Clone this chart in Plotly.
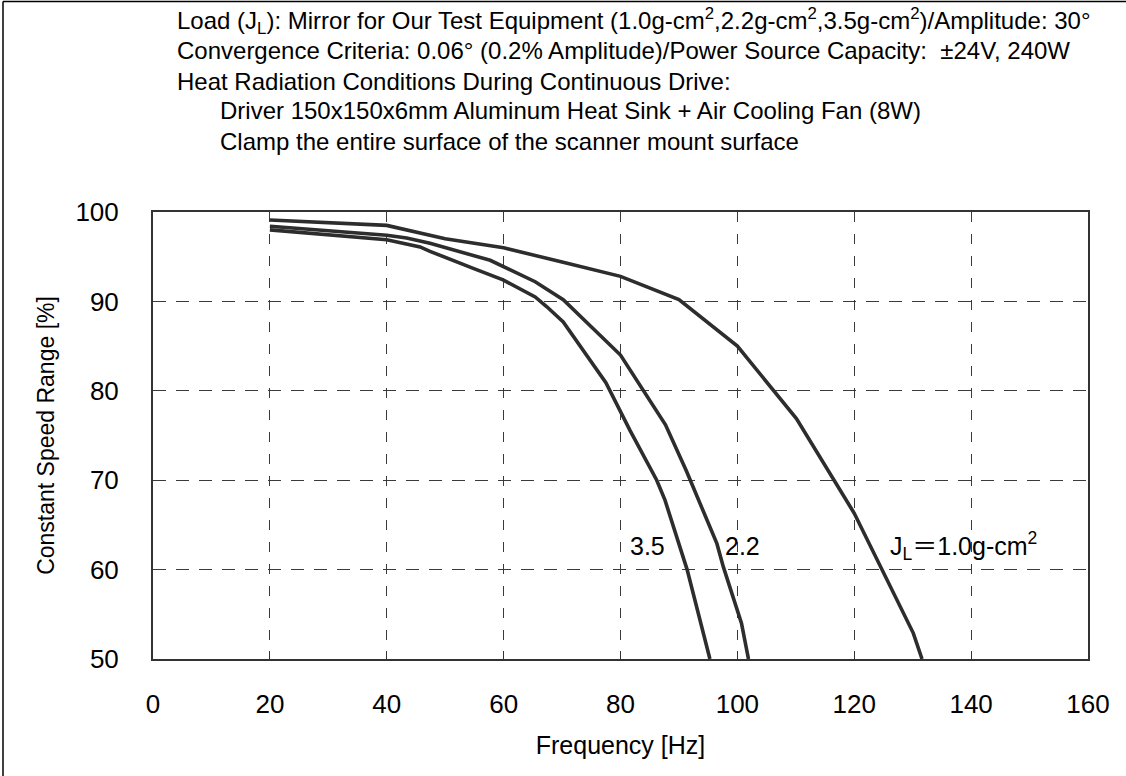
import plotly.graph_objects as go

# ---- data ----
freq_10 = [20, 40, 50, 60, 70, 80, 90, 100, 110.1, 120, 130.1, 131.6]
csr_10 = [99.1, 98.5, 97.0, 96.0, 94.4, 92.8, 90.2, 85.0, 76.9, 66.3, 52.9, 50.0]

freq_22 = [20, 36, 40, 43.4, 47.4, 57.7, 65.4, 70.2, 77.2, 80, 87.7, 91.3, 96.5, 97.6, 100.7, 101.9]
csr_22 = [98.4, 97.6, 97.4, 97.1, 96.5, 94.6, 92.2, 90.2, 85.8, 84.0, 76.2, 71.0, 62.9, 60.3, 54.0, 50.0]

freq_35 = [20, 36, 40, 45.7, 47.4, 54.8, 59.9, 65.4, 67.4, 70.2, 77.5, 81.6, 86.2, 87.6, 91.4, 95.3]
csr_35 = [98.0, 97.1, 96.9, 96.1, 95.6, 93.7, 92.4, 90.5, 89.4, 87.7, 80.9, 75.6, 70.0, 67.8, 60.0, 50.0]

x_ticks = [0, 20, 40, 60, 80, 100, 120, 140, 160]
y_ticks = [50, 60, 70, 80, 90, 100]

header_lines = [
    "Load (J<sub>L</sub>): Mirror for Our Test Equipment (1.0g-cm<sup>2</sup>,2.2g-cm<sup>2</sup>,3.5g-cm<sup>2</sup>)/Amplitude: 30°",
    "Convergence Criteria: 0.06° (0.2% Amplitude)/Power Source Capacity:  ±24V, 240W",
    "Heat Radiation Conditions During Continuous Drive:",
    "Driver 150x150x6mm Aluminum Heat Sink + Air Cooling Fan (8W)",
    "Clamp the entire surface of the scanner mount surface",
]
curve_labels = ["3.5", "2.2", "J<sub>L</sub>＝1.0g-cm<sup>2</sup>"]

# ---- layout geometry (pixels) ----
W, H = 1126, 776
L, R, T, B = 153, 38, 212, 117
PW, PH = W - L - R, H - T - B

def px(xp):
    return (xp - L) / PW

def py(yp):
    return (H - B - yp) / PH

FONT = "Liberation Sans, Arial, Helvetica, sans-serif"
FONT_CJK = "Liberation Sans, Noto Sans CJK JP, sans-serif"
LINE = "#2d2d2d"
GRID = "#3a3a3a"

fig = go.Figure()
for fx, fy in [(freq_10, csr_10), (freq_22, csr_22), (freq_35, csr_35)]:
    fig.add_trace(go.Scatter(x=fx, y=fy, mode="lines",
                             line=dict(color=LINE, width=3.6),
                             showlegend=False, hoverinfo="skip"))

annotations = []
header_pos = [(175, 21), (175, 51), (175, 81), (218, 111), (218, 141)]
for text, (hx, hy) in zip(header_lines, header_pos):
    annotations.append(dict(text=text, xref="paper", yref="paper",
                            x=px(hx), y=py(hy), xanchor="left", yanchor="middle",
                            showarrow=False, font=dict(family=FONT_CJK, size=24, color="#000")))

label_pos = [(81.3, 62.6), (97.6, 62.6), (125.8, 62.6)]
for text, (lx, ly) in zip(curve_labels, label_pos):
    annotations.append(dict(text=text, x=lx, y=ly, xref="x", yref="y",
                            xanchor="left", yanchor="middle", showarrow=False,
                            font=dict(family=FONT_CJK, size=25, color="#000")))

shapes = [
    dict(type="line", xref="paper", yref="paper", x0=px(3), x1=px(3), y0=py(H + 5), y1=py(1.5),
         line=dict(color="#000", width=1.5)),
    dict(type="line", xref="paper", yref="paper", x0=px(3), x1=px(W + 5), y0=py(1.5), y1=py(1.5),
         line=dict(color="#000", width=1.5)),
]

fig.update_layout(
    width=W, height=H,
    margin=dict(l=L, r=R, t=T, b=B, pad=0),
    paper_bgcolor="white", plot_bgcolor="white",
    font=dict(family=FONT, color="#000"),
    annotations=annotations, shapes=shapes,
    showlegend=False,
)
fig.update_xaxes(
    range=[0, 160], tickvals=x_ticks, ticktext=[str(v) for v in x_ticks],
    showgrid=True, gridcolor=GRID, gridwidth=1, griddash="10px,12px",
    showline=True, linecolor="#333", linewidth=2, mirror=True,
    ticks="inside", ticklen=8, tickcolor="#333", tickwidth=1,
    tickfont=dict(family=FONT, size=26, color="#000"), ticklabelstandoff=21,
    zeroline=False,
    title=dict(text="Frequency [Hz]", font=dict(family=FONT, size=25, color="#000"), standoff=18),
)
fig.update_yaxes(
    range=[50, 100], tickvals=y_ticks, ticktext=[str(v) for v in y_ticks],
    showgrid=True, gridcolor=GRID, gridwidth=1, griddash="13px,10px",
    showline=True, linecolor="#333", linewidth=2, mirror=True,
    ticks="", tickfont=dict(family=FONT, size=26, color="#000"), ticklabelstandoff=27,
    zeroline=False,
    title=dict(text="Constant Speed Range [%]", font=dict(family=FONT, size=23, color="#000"), standoff=14),
)

fig.write_html("out.html")
